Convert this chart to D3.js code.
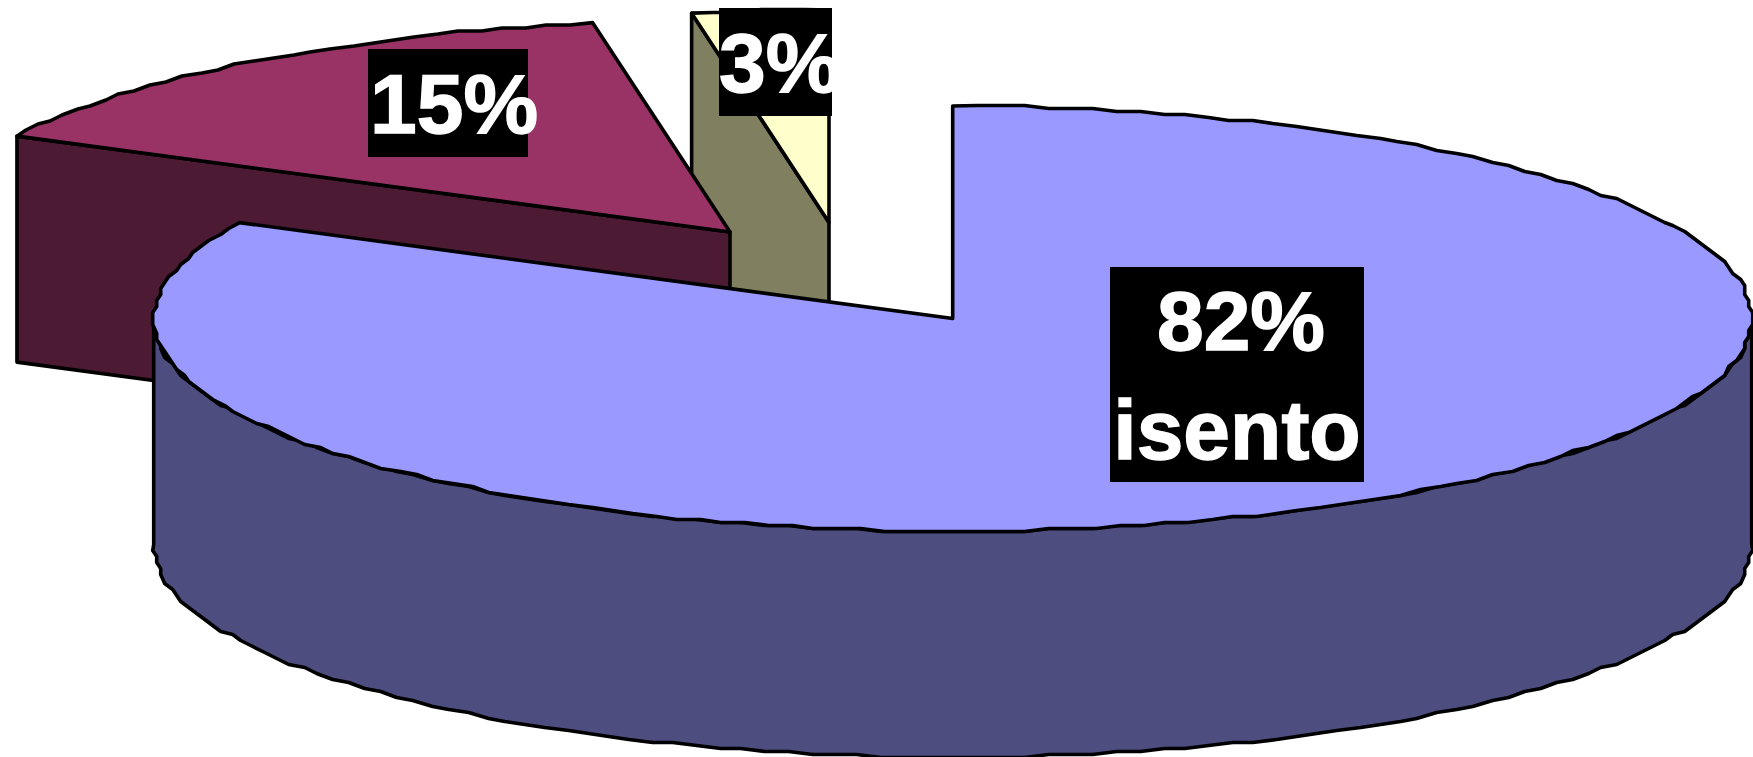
<!DOCTYPE html>
<html>
<head>
<meta charset="utf-8">
<script src="https://cdn.jsdelivr.net/npm/d3@7/dist/d3.min.js"></script>
<style>
html,body{margin:0;padding:0;background:#fff;overflow:hidden}
svg{display:block}
text{font-family:"Liberation Sans",Arial,sans-serif;font-weight:bold;fill:#fff;stroke:#fff;stroke-width:1.4px}
</style>
</head>
<body>
<svg id="c" width="1753" height="757"></svg>
<script>
// Data
const shares = [82.45, 14.8, 2.75];
const labelSuffix = ["isento", "", ""];
const topColors = ["#9999ff", "#993366", "#ffffcc"];
const sideColors = ["#4d4d80", "#4d1a33", "#808060"];

// Layout
const W = 1753, H = 757, RX = 799, RY = 212.5, DEPTH = 226;
const centers = [[952.7, 318.5], [730, 232], [829, 222.5]];
const boxes = [
  {x: 1110, y: 267, w: 254, h: 215, tx: 1241, anchor: "middle", base: [350, 459], tx2: 1237},
  {x: 368, y: 49, w: 160, h: 108, tx: 370, anchor: "start", base: [133]},
  {x: 719, y: 8, w: 113, h: 108, tx: 719, anchor: "start", base: [92]}
];
const GX = 4, GY = 3, STEP = 1.7;

const svg = d3.select("#c");
const pie = d3.pie().sort(null).startAngle(0).endAngle(2 * Math.PI);
const arcs = pie(shares);
const ux = d3.scaleLinear().domain([-1, 1]).range([-RX, RX]);
const uy = d3.scaleLinear().domain([-1, 1]).range([-RY, RY]);
const line = d3.line().curve(d3.curveLinear);

function rim(a) { return [ux(Math.sin(a)), uy(-Math.cos(a))]; }
function samples(a0, a1) {
  const st = STEP * Math.PI / 180, out = [];
  const n = Math.max(1, Math.ceil(Math.abs(a1 - a0) / st));
  for (let i = 0; i <= n; i++) {
    const p = rim(a0 + (a1 - a0) * i / n);
    out.push(i === 0 || i === n ? p
      : [Math.round(p[0] / GX) * GX, Math.round(p[1] / GY) * GY]);
  }
  return out;
}
function shift(pts, c, d) { return pts.map(p => [p[0] + c[0], p[1] + c[1] + d]); }

function drawShape(pts, fill) {
  svg.append("path").attr("d", line(pts) + "Z")
    .attr("fill", fill).attr("stroke", "#000")
    .attr("stroke-width", 3.6).attr("stroke-linejoin", "round");
}

// back to front: smallest slice first
[2, 1, 0].forEach(i => {
  const a = arcs[i], c = centers[i];
  const a0 = a.startAngle, a1 = a.endAngle;
  const onSide = v => v > Math.PI && v < 2 * Math.PI;

  // cut face that looks toward the viewer
  if (onSide(a0)) {
    const e = rim(a0);
    drawShape(shift([[0, 0], e], c, 0).concat(shift([e, [0, 0]], c, DEPTH)), sideColors[i]);
  }
  // outer wall on the front half of the rim
  const w0 = Math.max(a0, Math.PI / 2), w1 = Math.min(a1, 3 * Math.PI / 2);
  if (w1 > w0) {
    const r = samples(w0, w1);
    drawShape(shift(r, c, 0).concat(shift(r.slice().reverse(), c, DEPTH)), sideColors[i]);
  }
  // top face
  drawShape(shift([[0, 0]].concat(samples(a0, a1)), c, 0), topColors[i]);
});

// labels
[0, 1, 2].forEach(i => {
  const b = boxes[i];
  svg.append("rect").attr("x", b.x).attr("y", b.y).attr("width", b.w).attr("height", b.h).attr("fill", "#000");
  const lines = [Math.round(shares[i]) + "%"];
  if (labelSuffix[i]) lines.push(labelSuffix[i]);
  lines.forEach((t, k) => {
    svg.append("text").attr("x", k ? b.tx2 : b.tx).attr("y", b.base[k])
      .attr("text-anchor", b.anchor).attr("font-size", 84).text(t);
  });
});
</script>
</body>
</html>
